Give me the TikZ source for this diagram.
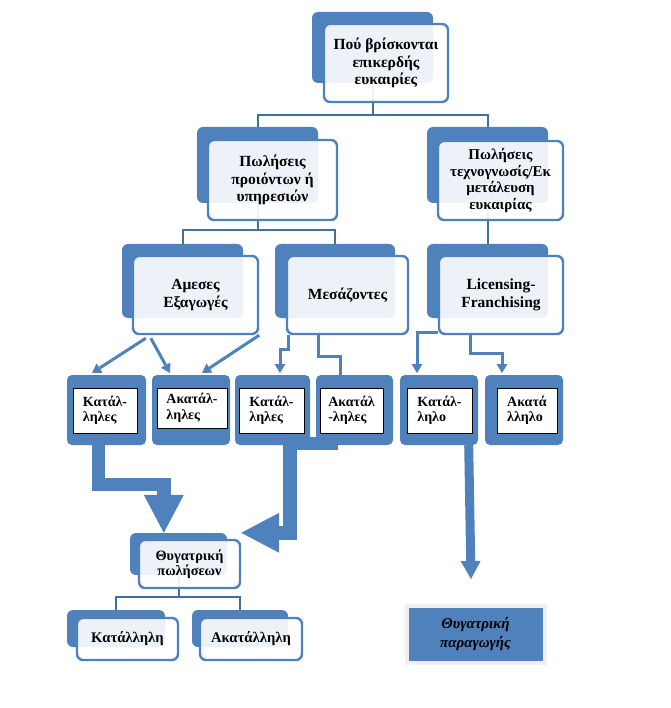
\documentclass[tikz,border=0pt]{standalone}
\usepackage{fontspec}
\setmainfont{Liberation Serif}
\usepackage{tikz}
\usetikzlibrary{calc, arrows.meta, shadows, positioning}
\definecolor{accent}{HTML}{4F81BD}
\definecolor{linkblue}{HTML}{41719C}

\begin{document}
\begin{tikzpicture}[x=1pt, y=-1pt,
    back/.style={fill=accent, rounded corners=6pt, inner sep=0pt},
    front/.style={draw=accent, line width=2.4pt, fill=white, fill opacity=0.9,
        text opacity=1, rounded corners=6pt, align=center, inner sep=0pt,
        font=\bfseries\fontsize{15.5}{17.5}\selectfont},
    conn/.style={draw=linkblue, line width=2pt},
    lnk/.style={draw=accent, line width=3pt, -{Triangle[width=11pt,length=9pt,line width=0pt]}},
    fat/.style={draw=accent, line width=13.5pt, -{Triangle[width=40pt,length=38pt,line width=0pt]}},
    cellback/.style={fill=accent, rounded corners=5pt, minimum height=70pt, inner sep=0pt},
    cellbox/.style={draw=black, line width=0.8pt, fill=white, align=left, inner sep=0pt,
        font=\bfseries\fontsize{14}{15.5}\selectfont},
    prod/.style={fill=accent, draw=gray!12, line width=4pt, align=center, inner sep=0pt,
        drop shadow={shadow xshift=2pt, shadow yshift=-2pt, opacity=0.35, fill=gray},
        font=\fontsize{15}{19}\selectfont\bfseries\itshape}
]
    \useasboundingbox (0,0) rectangle (670,708);

    % back plates
    \node[back, minimum width=121pt, minimum height=71pt] (topb) at (372.5,47.5) {};
    \node[back, minimum width=121pt, minimum height=76pt] (salesb) at (257.5,165) {};
    \node[back, minimum width=121pt, minimum height=76pt] (techb) at (487.5,165) {};
    \node[back, minimum width=121pt, minimum height=74pt] (directb) at (182.5,281) {};
    \node[back, minimum width=120pt, minimum height=74pt] (agentb) at (335,281) {};
    \node[back, minimum width=121pt, minimum height=74pt] (licb) at (487.5,281) {};
    \node[back, minimum width=97pt, minimum height=42pt] (subb) at (178.5,554) {};
    \node[back, minimum width=98pt, minimum height=37pt] (fitb) at (116,628.5) {};
    \node[back, minimum width=96pt, minimum height=37pt] (unfitb) at (240,628.5) {};

    % hierarchy lines
    \draw[conn] (topb.south) -- ++(0,32) coordinate (j1) -| (salesb.north);
    \draw[conn] (j1) -| (techb.north);
    \draw[conn] (salesb.south) -- ++(0,27) coordinate (j2) -| (directb.north);
    \draw[conn] (j2) -| (agentb.north);
    \draw[conn] (techb.south) -- (licb.north);
    \draw[conn] (subb.south) -- ++(0,22) coordinate (j3) -| (fitb.north);
    \draw[conn] (j3) -| (unfitb.north);

    % text plates
    \node[front, minimum width=124pt, minimum height=78pt] (topf) at (386,63)
        {Πού βρίσκονται\\επικερδής\\ευκαιρίες};
    \node[front, minimum width=129pt, minimum height=80pt] (salesf) at (272.5,180)
        {Πωλήσεις\\προιόντων ή\\υπηρεσιών};
    \node[front, minimum width=125pt, minimum height=79pt,
        font=\bfseries\fontsize{15}{16.5}\selectfont] (techf) at (500.5,180.5)
        {Πωλήσεις\\τεχνογνωσίς/Εκ\\μετάλευση\\ευκαιρίας};
    \node[front, minimum width=125pt, minimum height=78pt] (directf) at (195.5,295)
        {Αμεσες\\Εξαγωγές};
    \node[front, minimum width=121pt, minimum height=78pt] (agentf) at (347.5,295)
        {Μεσάζοντες};
    \node[front, minimum width=124pt, minimum height=78pt] (licf) at (501,295)
        {Licensing-\\Franchising};
    \node[front, minimum width=101pt, minimum height=48pt,
        font=\bfseries\fontsize{14.3}{15.5}\selectfont] (subf) at (189.5,564)
        {Θυγατρική\\πωλήσεων};
    \node[front, minimum width=101pt, minimum height=42pt,
        font=\bfseries\fontsize{14.67}{17}\selectfont] (fitf) at (127.5,639) {Κατάλληλη};
    \node[front, minimum width=102pt, minimum height=42pt,
        font=\bfseries\fontsize{14.67}{17}\selectfont] (unfitf) at (251,639) {Ακατάλληλη};

    % small arrows into the cells
    \draw[lnk] ($(directf.south west)+(14,3)$) -- (92,373) coordinate (a1);
    \draw[lnk] ($(directf.south west)+(19,3)$) -- (170,373) coordinate (a2);
    \draw[lnk] (directf.south east) -- (202,373) coordinate (a3);
    \draw[lnk] ($(agentf.south west)+(3,0)$) -- ++(0,14) -| (280,373) coordinate (a4);
    \draw[lnk, -] ($(agentf.south west)+(33,0)$) -- ++(0,21) -| (340,376) coordinate (a5);
    \draw[lnk] ($(licf.south west)+(0,-3)$) -| (417,373) coordinate (a6);
    \draw[lnk] ($(licf.south west)+(33,0)$) -- ++(0,18) -| (502,373) coordinate (a7);

    % cells
    \foreach \k/\ox/\ow/\ix/\iy/\iw/\ih/\txt in {
        1/106.5/79/105/410.5/64/45/{Κατάλ-\\ληλες},
        2/191/78/192/408/70/40/{Ακατάλ-\\ληλες},
        3/272.5/75/271.5/410.5/65/45/{Κατάλ-\\ληλες},
        4/354.5/77/351.5/410.5/63/45/{Ακατάλ\\-ληλες},
        5/439/78/439.5/410.5/65/45/{Κατάλ-\\ληλο},
        6/524/78/527/410.5/60/45/{Ακατά\\λληλο}} {
        \node[cellback, minimum width=\ow pt] (c\k) at (\ox,410) {};
        \node[cellbox, minimum width=\iw pt, minimum height=\ih pt] (t\k) at (\ix,\iy) {\txt};
    }

    % big arrows
    \node[prod, minimum width=138pt, minimum height=57pt] (prodf) at (475.5,634.5)
        {Θυγατρική\\παραγωγής};
    \draw[fat] ($(c1.south west)+(31.5,0)$) -- ++(0,39.5) -| ($(subb.north west)+(34,0)$);
    \draw[fat] ($(c4.south west)+(22,-1.5)$) -| ($(subf.north east)+(49,-6)$)
        -- ($(subf.north east)+(0,-6)$);
    \draw[fat, line width=9pt, -{Triangle[width=20pt,length=18pt,line width=0pt]}]
        ($(c5.south east)+(-9.5,0)$) -- ($(prodf.north)+(-4.5,-25)$);
\end{tikzpicture}
\end{document}
